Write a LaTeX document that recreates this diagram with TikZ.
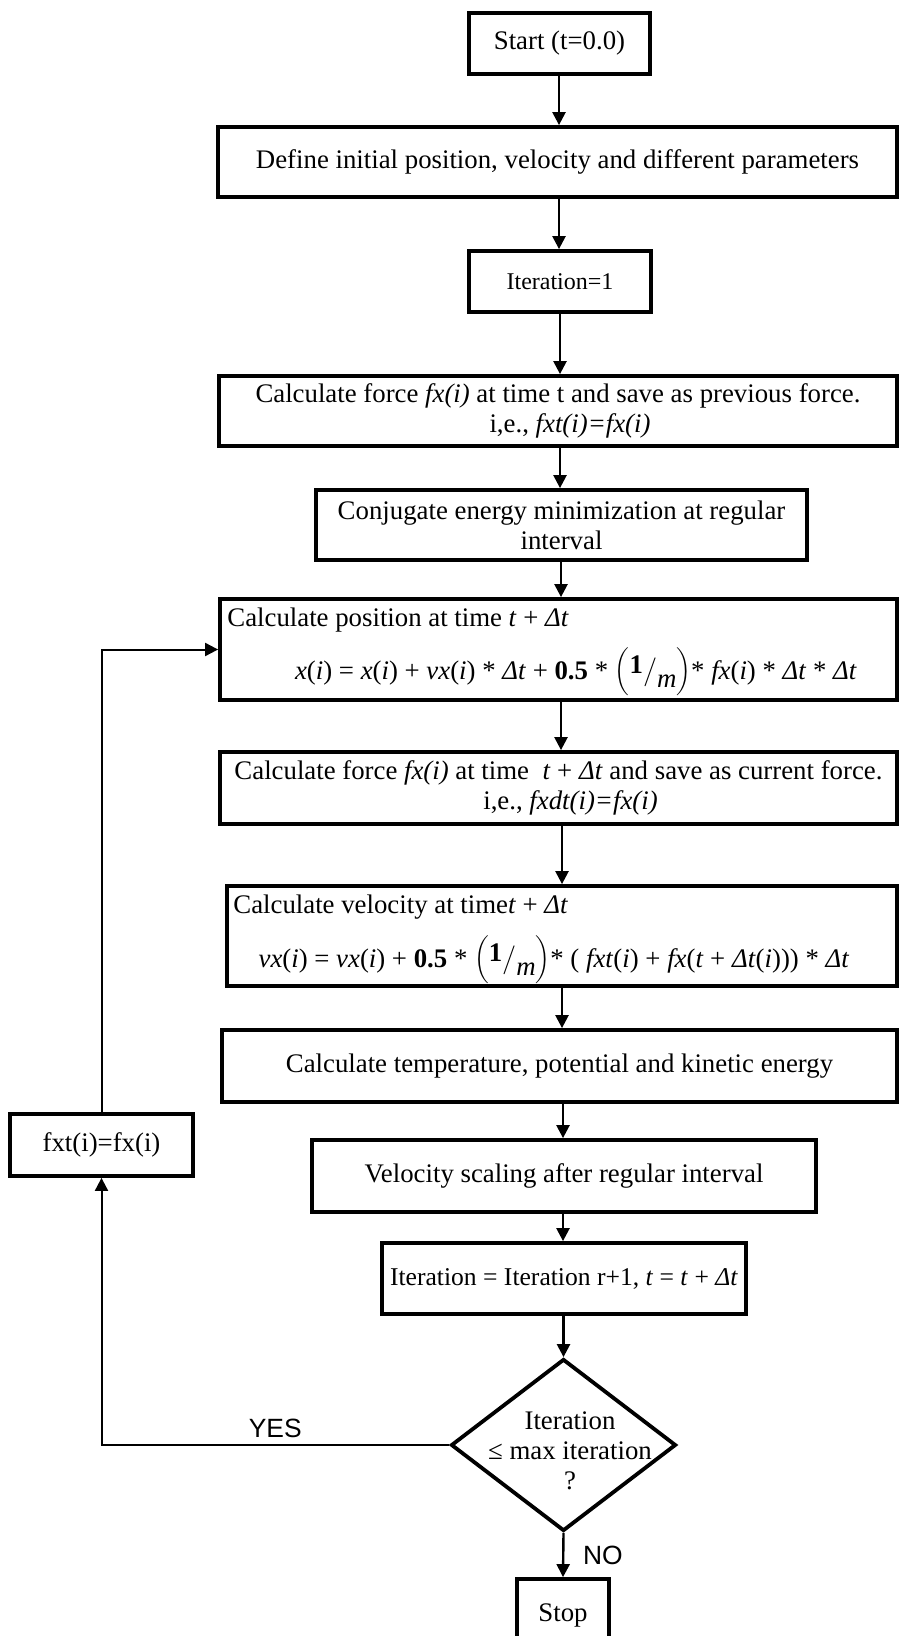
\documentclass[tikz,border=0pt]{standalone}
\usepackage{fontspec}
\setmainfont{Liberation Serif}
\newfontfamily\yesnofont{Liberation Sans}
\usetikzlibrary{arrows.meta,shapes.geometric}

\newcommand{\dtt}{\textit{Δt}}
\newcommand{\invm}{$\bigg(\raisebox{0.5ex}{\textbf{1}}\Big/\raisebox{-0.7ex}{\textit{m}}\bigg)$}

\begin{document}
\begin{tikzpicture}[x=0.5pt, y=-0.5pt, >={Triangle[length=6.5pt,width=6.5pt]},
    every node/.style={font=\fontsize{13.4}{15}\selectfont},
    box/.style 2 args={draw, line width=1.9pt, inner sep=0pt, align=center,
        minimum width=#1*0.5pt, minimum height=#2*0.5pt},
    txt/.style={inner sep=0pt},
    flow/.style={->, line width=1.2pt}]
    \useasboundingbox (0,0) rectangle (899,1636);

    % 1. Các hộp của cột chính
    \node[box={181}{61}] (start) at (559.5,43.5) {Start (t=0.0)};
    \node[box={679}{70}] (init) at (557.5,162) {Define initial position, velocity and different parameters};
    \node[box={182}{61}, font=\fontsize{12}{14}\selectfont] (iterone) at (560,281.5) {Iteration=1};
    \node[box={678}{70}] (forceold) at (558,411)
        {Calculate force \textit{fx(i)} at time t and save as previous force.\\ \hspace*{12pt}i,e., \textit{fxt(i)=fx(i)}};
    \node[box={491}{70}] (conj) at (561.5,525) {Conjugate energy minimization at regular\\ interval};

    % Hộp vị trí: dòng đầu căn trái, công thức ở dưới
    \node[box={677}{101}] (pos) at (558.5,649.5) {};
    \node[txt, anchor=west] (postitle) at (227,620) {Calculate position at time \textit{t} + \dtt};
    \node[txt] (posformula) at (576,672)
        {\textit{x}(\textit{i}) = \textit{x}(\textit{i}) + \textit{vx}(\textit{i}) * \dtt{} + \textbf{0.5} * \invm* \textit{fx}(\textit{i}) * \dtt{} * \dtt};

    \node[box={677}{72}] (forcenew) at (558.5,788)
        {Calculate force \textit{fx(i)} at time \ \textit{t} + \dtt{} and save as current force.\\ \hspace*{12pt}i,e., \textit{fxdt(i)=fx(i)}};

    % Hộp vận tốc
    \node[box={670}{100}] (vel) at (562,936) {};
    \node[txt, anchor=west] (veltitle) at (233,907) {Calculate velocity at time\textit{t} + \dtt};
    \node[txt] (velformula) at (554,960)
        {\textit{vx}(\textit{i}) = \textit{vx}(\textit{i}) + \textbf{0.5} * \invm* ( \textit{fxt}(\textit{i}) + \textit{fx}(\textit{t} + \dtt(\textit{i}))) * \dtt};

    \node[box={675}{72}] (energy) at (559.5,1066) {Calculate temperature, potential and kinetic energy};
    \node[box={504}{72}] (scaling) at (564,1176) {Velocity scaling after regular interval};
    \node[box={364}{71}, font=\fontsize{12.8}{15}\selectfont] (update) at (564,1278.5)
        {Iteration = Iteration r+1, \textit{t} = \textit{t} + \dtt};

    % 2. Ô điều kiện và Stop
    \node[draw, diamond, line width=1.9pt, inner sep=0pt,
        minimum width=112.5pt, minimum height=86pt] (check) at (563.5,1445) {};
    \node[txt, align=center] (checktext) at (570,1451) {Iteration\\ ≤ max iteration\\ ?};
    \node[box={92}{72}] (stop) at (563,1615) {Stop};

    % 3. Hộp vòng lặp bên trái
    \node[box={183}{62}] (save) at (101.5,1145) {fxt(i)=fx(i)};

    % 4. Mũi tên dọc cột chính
    \foreach \a/\b/\c in {start/init/559, init/iterone/559, iterone/forceold/560, forceold/conj/560,
        conj/pos/561, pos/forcenew/561, forcenew/vel/562, vel/energy/562, energy/scaling/563,
        scaling/update/563, update/check/563.5}
        \draw[flow] (\c,0 |- \a.south) -- (\c,0 |- \b.north);

    \draw[flow] (check.south) -- (stop.north)
        node[midway, right, xshift=6pt, font=\yesnofont\fontsize{13.2}{15}\selectfont] (no) {NO};

    % 5. Nhánh YES quay lại
    \draw[flow, line width=1pt] (check.west) -| (save.south)
        node[pos=0.25, above, font=\yesnofont\fontsize{13.2}{15}\selectfont] (yes) {YES};
    \draw[flow, line width=1pt] (save.north) |- (pos.west);

\end{tikzpicture}
\end{document}
